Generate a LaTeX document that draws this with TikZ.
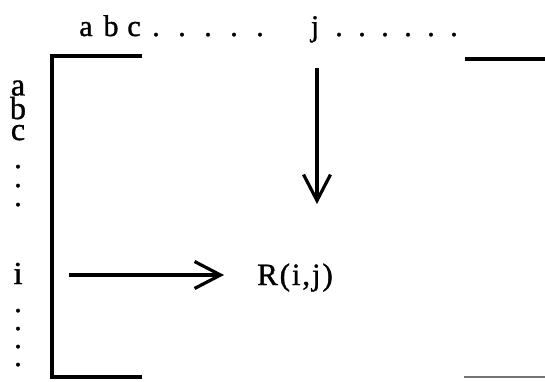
\documentclass[tikz,border=0pt]{standalone}
\usepackage{fontspec}
\setmainfont[FakeBold=1.2]{Liberation Serif}
\usetikzlibrary{arrows.meta}
\begin{document}
\begin{tikzpicture}[x=1pt,y=-1pt,
  lbl/.style={inner sep=0pt,anchor=base,font=\fontsize{30}{30}\selectfont},
  col/.style={inner sep=0pt,anchor=base,align=center,font=\fontsize{32}{21}\selectfont},
  brk/.style={line width=3.4pt},
  arr/.style={line width=3.2pt,-{Straight Barb[length=26pt,width=27pt,line width=3.2pt]}}]
\useasboundingbox (0,0) rectangle (545,381);
% top labels
\node[lbl] (ta) at (86,36) {a};
\node[lbl] (tb) at (111,36) {b};
\node[lbl] (tc) at (134,36) {c};
\foreach \i/\x in {1/156,2/182,3/208,4/234,5/260}{\node[lbl] (td\i) at (\x,36) {.};}
\node[lbl] (tj) at (315,36) {j};
\foreach \i/\x in {1/339,2/362,3/385,4/408,5/431,6/454}{\node[lbl] (te\i) at (\x,36) {.};}
% left labels
\node[col,anchor=base] (labc) at (18,140) {a\\b\\c};
\node[col,font=\fontsize{30}{19}\selectfont,anchor=base] (ld) at (18,206) {.\\.\\.};
\node[lbl,font=\fontsize{32}{32}\selectfont] (li) at (18,284) {i};
\node[col,font=\fontsize{30}{18}\selectfont,anchor=base] (le) at (18,366) {.\\.\\.\\.};
% brackets
\coordinate (b1) at (142,56);
\coordinate (b2) at (52,56);
\coordinate (b3) at (52,377);
\coordinate (b4) at (142,377);
\draw[brk] (b1) -- (b2) -- (b3) -- (b4);
\coordinate (r1) at (465,59);
\coordinate (r2) at (545,59);
\draw[brk] (r1) -- (r2);
\coordinate (r3) at (464,377);
\coordinate (r4) at (545,377);
\draw[line width=2.4pt,black!55] (r3) -- (r4);
% R(i,j)
\node[lbl,anchor=base west,font=\fontsize{31}{32}\selectfont\addfontfeatures{LetterSpace=6}] (R) at (257,285) {R(i,j)};
% arrows
\coordinate (vs) at (317,68);
\coordinate (ve) at (317,204);
\draw[arr] (vs) -- (ve);
\coordinate (hs) at (69,275);
\coordinate (he) at (224,275);
\draw[arr] (hs) -- (he);
\end{tikzpicture}
\end{document}
